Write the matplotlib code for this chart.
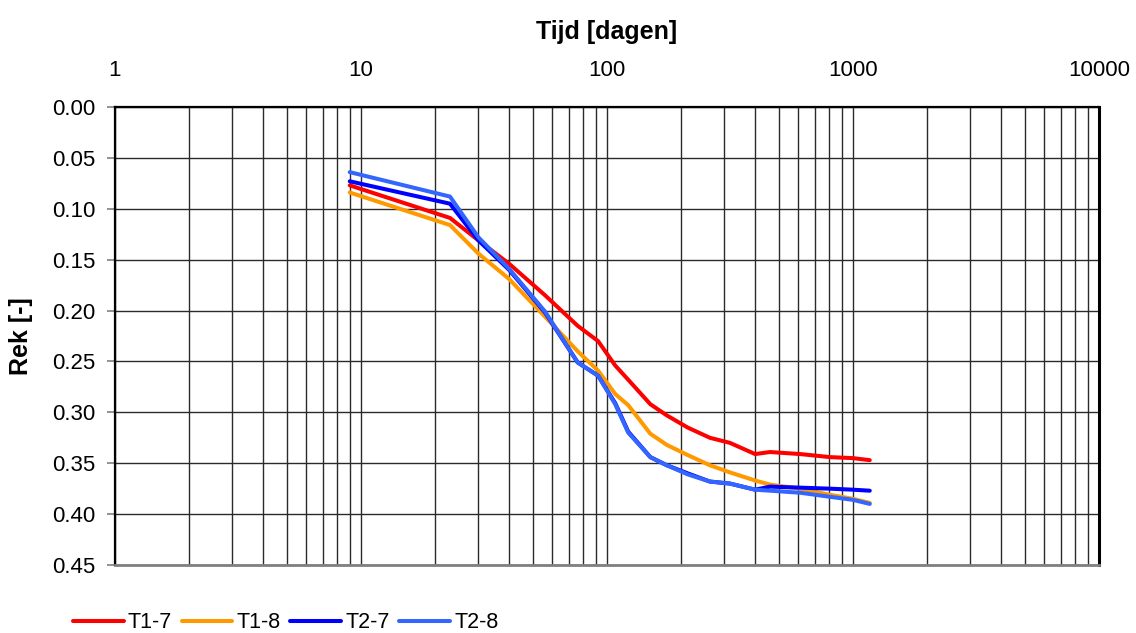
import matplotlib
matplotlib.use("Agg")
import matplotlib.pyplot as plt
from matplotlib.ticker import FixedLocator, NullFormatter, FuncFormatter

plt.rcParams['font.family'] = ['Liberation Sans', 'DejaVu Sans']

# Measurement times [days]
tijd = [9, 23, 30, 40, 56, 76, 92, 108, 122, 150, 175, 213, 262, 316,
        400, 460, 610, 806, 1000, 1170]

# Strain per sensor [-]
t1_7 = [0.077, 0.109, 0.131, 0.154, 0.185, 0.215, 0.230, 0.254, 0.268, 0.292,
        0.303, 0.315, 0.325, 0.330, 0.341, 0.339, 0.341, 0.344, 0.345, 0.347]
t1_8 = [0.084, 0.116, 0.144, 0.169, 0.206, 0.240, 0.259, 0.282, 0.293, 0.321,
        0.332, 0.342, 0.352, 0.359, 0.367, 0.371, 0.375, 0.381, 0.385, 0.389]
t2_7 = [0.073, 0.095, 0.131, 0.160, 0.202, 0.251, 0.264, 0.291, 0.319, 0.344,
        0.352, 0.360, 0.368, 0.370, 0.376, 0.373, 0.374, 0.375, 0.376, 0.377]
t2_8 = [0.064, 0.088, 0.128, 0.159, 0.201, 0.251, 0.264, 0.292, 0.320, 0.344,
        0.352, 0.361, 0.368, 0.370, 0.376, 0.377, 0.379, 0.383, 0.386, 0.390]

series = [
    ("T1-7", t1_7, "#FF0000"),
    ("T1-8", t1_8, "#FF9900"),
    ("T2-7", t2_7, "#0000FF"),
    ("T2-8", t2_8, "#3366FF"),
]

x_major = [1, 10, 100, 1000, 10000]
y_ticks = [0.00, 0.05, 0.10, 0.15, 0.20, 0.25, 0.30, 0.35, 0.40, 0.45]

fig = plt.figure(figsize=(11.36, 6.33), dpi=100)
ax = fig.add_axes([115 / 1136, 1 - 565 / 633, 984 / 1136, 458 / 633])

for name, vals, col in series:
    ax.plot(tijd, vals, color=col, lw=2.9, label=name, solid_capstyle='round',
            zorder=3)

ax.set_xscale('log')
ax.set_xlim(1, 10000)
ax.set_ylim(0.45, 0.0)

ax.xaxis.tick_top()
ax.xaxis.set_label_position('top')
ax.xaxis.set_major_locator(FixedLocator(x_major))
ax.xaxis.set_major_formatter(FuncFormatter(lambda v, p: f"{int(round(v))}"))
minor = [m * d for d in [1, 10, 100, 1000] for m in range(2, 10)]
ax.xaxis.set_minor_locator(FixedLocator(minor))
ax.xaxis.set_minor_formatter(NullFormatter())
ax.tick_params(axis='x', which='both', length=0, pad=19, labelsize=16)

ax.set_yticks(y_ticks)
ax.yaxis.set_major_formatter(FuncFormatter(lambda v, p: f"{v:.2f}"))
ax.tick_params(axis='y', which='major', direction='out', length=6,
               color='#808080', width=1.2, pad=8, labelsize=16)

ax.grid(True, which='both', axis='x', color='#2b2b2b', lw=1.0, zorder=1)
ax.grid(True, which='major', axis='y', color='#2b2b2b', lw=1.0, zorder=1)
ax.set_axisbelow(True)

for side in ['left', 'top', 'right']:
    ax.spines[side].set_color('black')
    ax.spines[side].set_linewidth(1.6)
ax.spines['right'].set_linewidth(2.2)
ax.spines['bottom'].set_color('#808080')
ax.spines['bottom'].set_linewidth(2.0)

ax.set_xlabel("Tijd [dagen]", fontsize=18, fontweight='bold')
ax.xaxis.set_label_coords(0.5, 1 + 68 / 458)
ax.set_ylabel("Rek [-]", fontsize=18, fontweight='bold')
ax.yaxis.set_label_coords((33 - 115) / 984, 0.5)

leg = fig.legend(loc='lower left', bbox_to_anchor=(60 / 1136, -0.021),
                 ncol=4, frameon=False, fontsize=15.5, handlelength=2.35,
                 handletextpad=0.2, columnspacing=0.45, borderaxespad=0.2)

fig.savefig("out.png", dpi=100)
